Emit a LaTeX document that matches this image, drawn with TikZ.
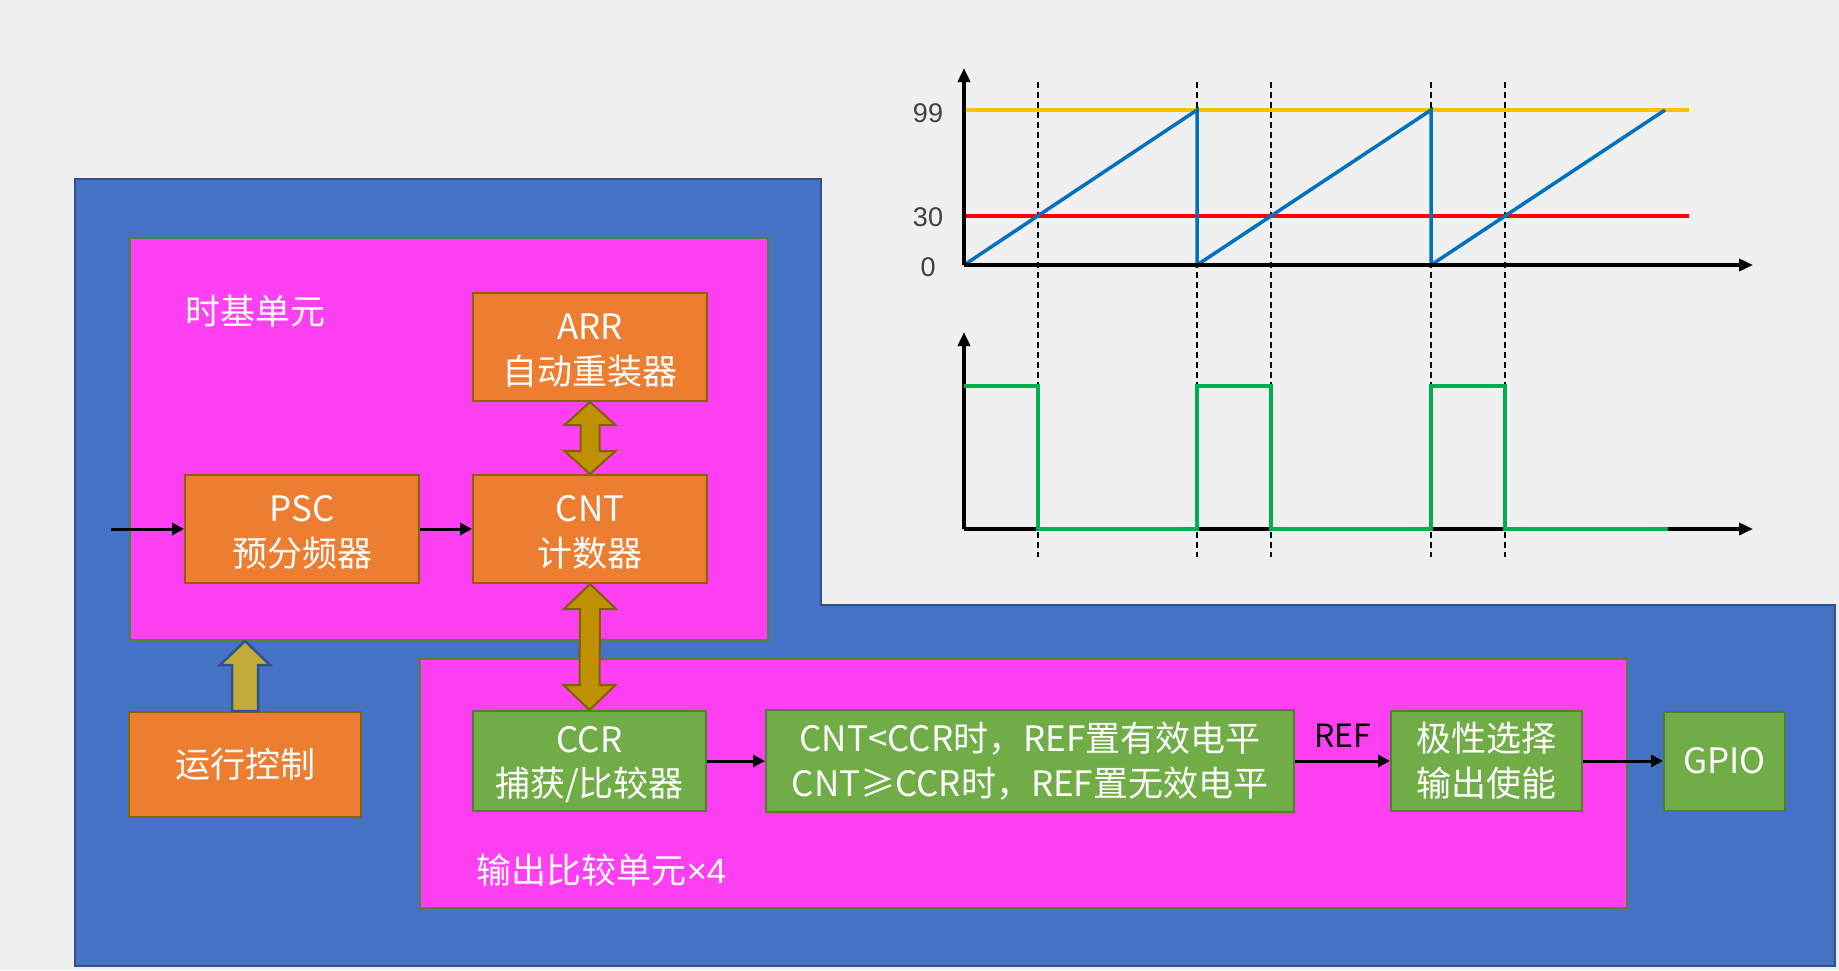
\documentclass[tikz,border=0pt]{standalone}
\usepackage{fontspec}
\setmainfont{Noto Sans CJK SC}
\newfontfamily\axisfont{Liberation Sans}
\usetikzlibrary{arrows.meta,calc}
\definecolor{bgc}{HTML}{F0F0F0}
\definecolor{blueA}{HTML}{4472C4}
\definecolor{blueB}{HTML}{2F528F}
\definecolor{pinkA}{HTML}{FF40F2}
\definecolor{pinkB}{HTML}{548235}
\definecolor{orangeA}{HTML}{ED7D31}
\definecolor{orangeB}{HTML}{8A6200}
\definecolor{greenA}{HTML}{70AD47}
\definecolor{greenB}{HTML}{507E32}
\definecolor{goldA}{HTML}{BF9000}
\definecolor{goldB}{HTML}{7F6000}
\definecolor{oliveA}{HTML}{C2AB38}
\definecolor{lvlY}{HTML}{FFC000}
\definecolor{lvlR}{HTML}{FF0000}
\definecolor{sawB}{HTML}{0070C0}
\definecolor{pwmG}{HTML}{00B050}
\definecolor{lblgray}{HTML}{404040}
\newcommand{\tstrut}{\rule{0pt}{33pt}}
\begin{document}
\begin{tikzpicture}[x=1pt,y=-1pt,
  box/.style={draw, line width=2pt, text=white, align=center,
    font=\fontsize{35}{44.6}\selectfont, inner sep=0pt},
  obox/.style={box, fill=orangeA, draw=orangeB},
  gbox/.style={box, fill=greenA, draw=greenB},
  pbox/.style={draw=pinkB, fill=pinkA, line width=2pt, inner sep=0pt, anchor=north west},
  flow/.style={line width=3pt, -{Triangle[length=12pt,width=12pt]}},
  dblarr/.style={fill=goldA, draw=goldB, line width=2pt, line join=miter},
  uparr/.style={fill=oliveA, draw=blueB, line width=2.5pt, line join=miter},
  axis/.style={line width=3.5pt, -{Triangle[length=14pt,width=12pt]}},
  lvl/.style={line width=3.5pt},
  lbl/.style={font=\axisfont\fontsize{27}{30}\selectfont, text=lblgray},
  guide/.style={line width=1.5pt, dash pattern=on 6pt off 4pt}
]
\fill[bgc] (0,0) rectangle (1839,970);
\path[use as bounding box] (0,0) rectangle (1839,970);

% blue background (L shape)
\draw[fill=blueA, draw=blueB, line width=2pt] (75,179) -- (821,179) -- (821,605)
  -- (1835,605) -- (1835,966) -- (75,966) -- cycle;

% pink units
\node[pbox, minimum width=638pt, minimum height=402pt] (tb) at (129,237) {};
\node[pbox, minimum width=1207pt, minimum height=249pt] (oc) at (419,658) {};
\node[anchor=west, text=white, font=\fontsize{35}{44.6}\selectfont] (tbl) at (182,311) {时基单元};
\node[anchor=west, text=white, font=\fontsize{35}{44.6}\selectfont] (ocl) at (473,870) {输出比较单元{\axisfont ×4}};

% orange boxes
\node[obox, minimum width=234pt, minimum height=108pt] (arr) at (590,347) {\tstrut ARR\\自动重装器};
\node[obox, minimum width=234pt, minimum height=108pt] (psc) at (302,529) {\tstrut PSC\\预分频器};
\node[obox, minimum width=234pt, minimum height=108pt] (cnt) at (590,529) {\tstrut CNT\\计数器};
\node[obox, minimum width=232pt, minimum height=105pt] (run) at (245,764.5) {运行控制};

% green boxes
\node[gbox, minimum width=233pt, minimum height=100pt] (ccr) at (589.5,761) {\tstrut CCR\\捕获/比较器};
\node[gbox, minimum width=528pt, minimum height=102pt] (cmp) at (1030,761) {CNT<CCR时，REF置有效电平\\CNT≥CCR时，REF置无效电平};
\node[gbox, minimum width=191pt, minimum height=100pt] (pol) at (1486.5,761) {极性选择\\输出使能};
\node[gbox, minimum width=121pt, minimum height=99pt] (gpio) at (1724.5,761) {GPIO};

% flow arrows
\coordinate (in) at (111,529);
\draw[flow] (in) -- (psc.west);
\draw[flow] (psc) -- (cnt);
\draw[flow] (ccr) -- (cmp);
\draw[flow] (cmp) -- node[above=9pt, font=\fontsize{32}{36}\selectfont, text=black] (ref) {REF} (pol);
\draw[flow] (pol) -- (gpio);

% double block arrows
\draw[dblarr] (arr.south) -- ++(25.5,23) -- ++(-16,0) -- ($(cnt.north)+(9.5,-23)$)
  -- ++(16,0) -- (cnt.north) -- ++(-25.5,-23) -- ++(16,0)
  -- ($(arr.south)+(-9.5,23)$) -- ++(-16,0) -- cycle;
\draw[dblarr] (cnt.south) -- ++(26,25) -- ++(-16,0) -- ($(ccr.north)+(10,-25)$)
  -- ++(16,0) -- (ccr.north) -- ++(-26,-25) -- ++(16,0)
  -- ($(cnt.south)+(-10,25)$) -- ++(-16,0) -- cycle;

% run control arrow
\draw[uparr] ($(run.north)+(13,0)$) -- ($(tb.south -| run.north)+(13,24)$) -- ++(12,0)
  -- (tb.south -| run.north) -- ++(-25,24) -- ++(12,0) -- ($(run.north)+(-13,0)$) -- cycle;

% ===== timing chart =====
\foreach \x in {1038,1197,1271,1431,1505}
  \draw[guide] (\x,82) -- (\x,557);

\coordinate (o1) at (964,265);
\coordinate (o2) at (964,529);
\draw[lvl, lvlY] (964,110) -- (1689,110);
\draw[lvl, lvlR] (964,216) -- (1689,216);
\draw[lvl, sawB, line join=miter] (964,265) -- (1197,110) -- (1197,265) -- (1431,110)
  -- (1431,265) -- (1665,110);
\draw[axis] (o1) -- (964,68);
\draw[axis] (o1) -- (1753,265);
\node[lbl] (l99) at (928,113) {99};
\node[lbl] (l30) at (928,217) {30};
\node[lbl] (l0) at (928,267) {0};

\draw[axis] (o2) -- (964,332);
\draw[axis] (o2) -- (1753,529);
\draw[lvl, pwmG, line join=miter] (964,386) -- (1038,386) -- (1038,529) -- (1197,529)
  -- (1197,386) -- (1271,386) -- (1271,529) -- (1431,529) -- (1431,386) -- (1505,386)
  -- (1505,529) -- (1668,529);
\end{tikzpicture}
\end{document}
